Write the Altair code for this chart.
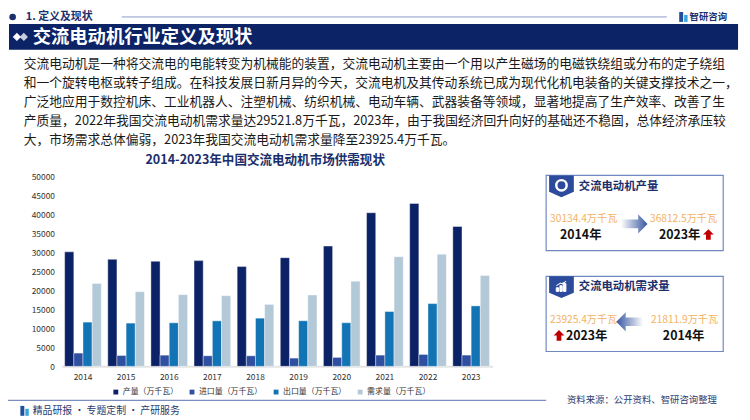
import altair as alt
import pandas as pd

FONT = "Noto Sans CJK SC"

# ---------------- data ----------------
years = ["2014", "2015", "2016", "2017", "2018", "2019", "2020", "2021", "2022", "2023"]
series_names = ["产量（万千瓦）", "进口量（万千瓦）", "出口量（万千瓦）", "需求量（万千瓦）"]
production = [30134.4, 28170, 27650, 27830, 26260, 28610, 31650, 40430, 42870, 36812.5]
imports = [3490, 2860, 2940, 2780, 2780, 2170, 2350, 2960, 3130, 2960]
exports = [11640, 11380, 11460, 11980, 12680, 12000, 11480, 14430, 16520, 15910]
demand = [21811.9, 19650, 18870, 18600, 16300, 18780, 22430, 28870, 29521.8, 23925.4]
colors = ["#0c2266", "#2f50a0", "#1274b4", "#b3c9d8"]
y_ticks = [0, 5000, 10000, 15000, 20000, 25000, 30000, 35000, 40000, 45000, 50000]

chart_title = "2014-2023年中国交流电动机市场供需现状"
paragraph = [
    "交流电动机是一种将交流电的电能转变为机械能的装置，交流电动机主要由一个用以产生磁场的电磁铁绕组或分布的定子绕组",
    "和一个旋转电枢或转子组成。在科技发展日新月异的今天，交流电机及其传动系统已成为现代化机电装备的关键支撑技术之一，",
    "广泛地应用于数控机床、工业机器人、注塑机械、纺织机械、电动车辆、武器装备等领域，显著地提高了生产效率、改善了生",
    "产质量，2022年我国交流电动机需求量达29521.8万千瓦，2023年，由于我国经济回升向好的基础还不稳固，总体经济承压较",
    "大，市场需求总体偏弱，2023年我国交流电动机需求量降至23925.4万千瓦。",
]
panel1 = {"title": "交流电动机产量", "v_from": "30134.4万千瓦", "y_from": "2014年",
          "v_to": "36812.5万千瓦", "y_to": "2023年"}
panel2 = {"title": "交流电动机需求量", "v_left": "23925.4万千瓦", "y_left": "2023年",
          "v_right": "21811.9万千瓦", "y_right": "2014年"}

rows = []
for i, yr in enumerate(years):
    for s, vals in zip(series_names, [production, imports, exports, demand]):
        rows.append({"year": yr, "series": s, "value": vals[i]})
df = pd.DataFrame(rows)

# ---------------- layout helpers (window px -> plot px) ----------------
OX, OY = 62, 176
one = pd.DataFrame({"k": [0]})


def T(text, wx, wy, size, color, weight="normal", align="left"):
    return alt.Chart(one).mark_text(
        text=text, fontSize=size, color=color, fontWeight=weight,
        align=align, baseline="middle", font=FONT
    ).encode(x=alt.value(wx - OX), y=alt.value(wy - OY))


def R(x1, x2, y1, y2, fill, stroke=None, sw=0):
    kw = dict(fill=fill, strokeWidth=sw)
    if stroke:
        kw["stroke"] = stroke
    return alt.Chart(one).mark_rect(**kw).encode(
        x=alt.value(x1 - OX), x2=alt.value(x2 - OX),
        y=alt.value(y1 - OY), y2=alt.value(y2 - OY))


def L(x1, x2, y, color, sw):
    return alt.Chart(one).mark_rule(color=color, strokeWidth=sw).encode(
        x=alt.value(x1 - OX), x2=alt.value(x2 - OX), y=alt.value(y - OY))


def P(shape, wx, wy, size, fill, stroke=None, sw=0):
    kw = dict(shape=shape, size=size, filled=True, fill=fill, opacity=1,
              fillOpacity=1, strokeWidth=sw)
    if stroke:
        kw["stroke"] = stroke
    return alt.Chart(one).mark_point(**kw).encode(
        x=alt.value(wx - OX), y=alt.value(wy - OY))


NAVY = "#0c2366"
TXT_NAVY = "#1b2f6c"
ORANGE = "#f4b265"
RED = "#c00000"

tab_shape = "M-1,-0.88L1,-0.88L1,0.45L0,0.88L-1,0.45Z"
arrow_right = "M-1,-0.32L0.3,-0.32L0.3,-0.72L1,0L0.3,0.72L0.3,0.32L-1,0.32Z"
arrow_left = "M1,-0.32L-0.3,-0.32L-0.3,-0.72L-1,0L-0.3,0.72L-0.3,0.32L1,0.32Z"
arrow_up = "M0,-1L0.95,-0.05L0.42,-0.05L0.42,0.9L-0.42,0.9L-0.42,-0.05L-0.95,-0.05Z"
mini_bars = "M-1,1L-1,0.3L-0.55,0.3L-0.55,1Z M-0.3,1L-0.3,-0.1L0.15,-0.1L0.15,1Z M0.4,1L0.4,-0.5L0.85,-0.5L0.85,1Z M-1,-0.1L-0.2,-0.6L0.3,-0.4L0.9,-1"

grad_r = alt.Gradient(gradient="linear", x1=0, x2=1, y1=0, y2=0,
                      stops=[alt.GradientStop(color="#ffffff", offset=0),
                             alt.GradientStop(color="#34559f", offset=1)])
grad_l = alt.Gradient(gradient="linear", x1=0, x2=1, y1=0, y2=0,
                      stops=[alt.GradientStop(color="#34559f", offset=0),
                             alt.GradientStop(color="#ffffff", offset=1)])

# ---------------- bars ----------------
bars = alt.Chart(df).mark_bar(stroke="#ffffff", strokeWidth=0.4).encode(
    x=alt.X("year:N", title=None, sort=years,
            scale=alt.Scale(paddingInner=0.15, paddingOuter=0.075),
            axis=alt.Axis(labelAngle=0, ticks=False, domainColor="#e4e4e4",
                          domainWidth=2, labelFontSize=8.5, labelColor="#333333",
                          labelPadding=6, labelFont=FONT)),
    xOffset=alt.XOffset("series:N", sort=series_names,
                        scale=alt.Scale(paddingInner=0, paddingOuter=0)),
    y=alt.Y("value:Q", title=None,
            scale=alt.Scale(domain=[0, 50000], nice=False),
            axis=alt.Axis(values=y_ticks, grid=False, domain=False, ticks=False,
                          labelPadding=7, labelFontSize=8.5, labelColor="#333333",
                          format="d", labelFont=FONT)),
    color=alt.Color("series:N", sort=series_names,
                    scale=alt.Scale(domain=series_names, range=colors),
                    legend=alt.Legend(title=None, orient="none", legendX=51, legendY=214,
                                      direction="horizontal", columns=4,
                                      symbolType="square", symbolSize=24,
                                      symbolStrokeWidth=0, labelFontSize=8,
                                      labelFont=FONT, labelColor="#333333",
                                      columnPadding=10, padding=0, labelOffset=3)),
)

layers = []
# header
HY = 14.8
layers += [
    P("circle", 12.7, HY, 45, TXT_NAVY),
    T("1. 定义及现状", 26, HY, 11, TXT_NAVY, "bold"),
    L(123, 674, HY, "#8d9cc8", 1),
    R(686.5, 690.5, HY - 5, HY + 5, "#1f4f9e"),
    R(691.5, 695, HY - 2, HY + 5, "#35a7dd"),
    T("智研咨询", 697, HY, 9.5, TXT_NAVY, "bold"),
    R(9, 746, 22, 48, NAVY),
    P("diamond", 24, 35, 70, "#c9cfdc"),
    P("diamond", 17, 35, 70, "#ffffff"),
    T("交流电动机行业定义及现状", 33, 35.5, 18.5, "#ffffff", "bold"),
]
for i, line in enumerate(paragraph):
    layers.append(T(line, 24, 62.5 + 19.1 * i, 12.9, "#1a1a1a"))
layers.append(T(chart_title, 268, 159, 12.7, TXT_NAVY, "bold", "center"))

# right panel 1
layers += [
    R(552, 731, 175, 251, "#ffffff", "#7088c0", 1.2),
    P(tab_shape, 567.5, 186, 625, "#2d4b9c"),
    P("circle", 567.5, 185, 110, "#2d4b9c", "#ffffff", 2.5),
    T(panel1["title"], 585, 187, 11.5, TXT_NAVY, "bold"),
    T(panel1["v_from"], 556, 219, 10.3, ORANGE),
    T(panel1["y_from"], 587, 235, 12.5, "#111111", "bold", "center"),
    P(arrow_right, 641, 224, 729, grad_r),
    T(panel1["v_to"], 657, 219, 10.3, ORANGE),
    T(panel1["y_to"], 687, 235, 12.5, "#111111", "bold", "center"),
    P(arrow_up, 716, 235, 130, RED),
]
# right panel 2
layers += [
    R(552, 731, 277, 353, "#ffffff", "#7088c0", 1.2),
    P(tab_shape, 567.5, 288, 625, "#2d4b9c"),
    P(mini_bars, 567.5, 287, 110, "#ffffff", "#ffffff", 1),
    T(panel2["title"], 585, 288, 11.5, TXT_NAVY, "bold"),
    T(panel2["v_left"], 556, 321, 10.3, ORANGE),
    P(arrow_left, 636.5, 323, 729, grad_l),
    T(panel2["v_right"], 658, 321, 10.3, ORANGE),
    P(arrow_up, 565, 337, 130, RED),
    T(panel2["y_left"], 593, 337, 12.5, "#111111", "bold", "center"),
    T(panel2["y_right"], 691, 337, 12.5, "#111111", "bold", "center"),
]
# footer
layers += [
    L(8, 552, 402.5, "#7b8fbf", 1.3),
    R(20.5, 24.5, 408, 418, "#1f4f9e"),
    R(25.5, 29, 411, 418, "#35a7dd"),
    T("精品研报 · 专题定制 · 产研服务", 33, 413, 10, "#1f3a6e"),
    T("资料来源：公开资料、智研咨询整理", 573, 402, 9.5, "#2c3e70"),
]

chart = alt.layer(bars, *layers).properties(
    width=436, height=192,
    padding={"left": 54, "top": 168, "right": 252, "bottom": 52},
    autosize=alt.AutoSizeParams(type="none"),
    background="#ffffff",
).configure_view(stroke=None)

chart.save("out.html", embed_options={"renderer": "svg", "actions": False})
